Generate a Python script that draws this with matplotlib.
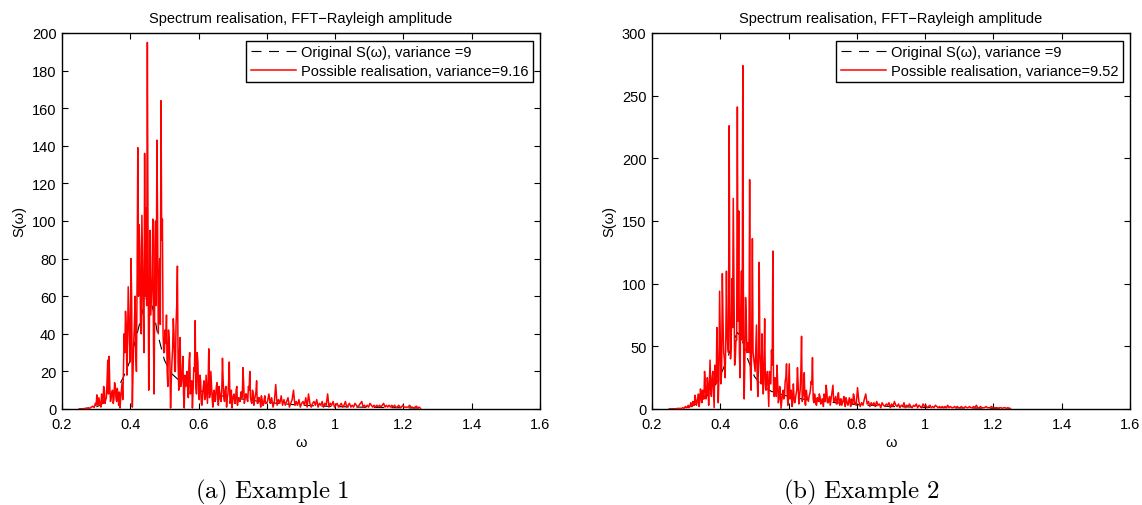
"""Spectrum realisation plots (two examples side by side)."""

import numpy as np
import matplotlib

matplotlib.use("Agg")
import matplotlib.pyplot as plt
from matplotlib.ticker import FormatStrFormatter, MultipleLocator

plt.rcParams["font.family"] = ["Liberation Sans", "DejaVu Sans"]
plt.rcParams["mathtext.fontset"] = "cm"

# frequency grid of the realisations (step 0.004) ...
omega = np.round(np.arange(0.25, 1.2501, 0.004), 3)
# ... plus the in-between bins of the busy part (0.300 - 0.796)
omega_mid = np.round(np.arange(0.300, 0.7961, 0.004), 3)

# realisation, example 1 (10 values per 0.04)
real_1 = [
    0, 0, 0, 0.1, 0.1, 0.2, 0.3, 0.5, 0.4, 1.0,
    1.5, 0.8, 3, 7.5, 2, 4, 1, 5, 12, 3,
    6, 26, 28, 4, 9, 3, 14, 6, 11, 2,
    0.5, 10, 5, 40, 52, 18, 65, 35, 80, 1,
    35, 60, 20, 139, 98, 45, 103, 50, 136, 107,
    195, 10, 95, 60, 101, 8, 100, 143, 40, 80,
    164, 101, 30, 42, 50, 12, 36, 0.5, 25, 48,
    20, 45, 76, 10, 38, 14, 28, 0.5, 12, 20,
    6, 30, 12, 0.5, 22, 47, 8, 25, 5, 15,
    2, 12, 5, 18, 3, 32, 8, 12, 1, 10,
    5, 14, 2, 9, 4, 27, 6, 10, 1, 8,
    25, 4, 0.5, 7, 3, 10, 2, 6, 4, 9,
    22, 3, 8, 5, 12, 20, 4, 10, 2, 7,
    15, 3, 6, 1, 5, 2, 7, 3, 4, 8,
    3, 6, 1, 4, 13, 2, 5, 3, 7, 2,
    5, 2, 4, 6, 1, 3, 5, 10, 2, 4,
    2, 5, 1, 3, 4, 2, 6, 1, 8, 3,
    1, 3, 4, 2, 5, 1, 3, 2, 4, 1,
    3, 2, 8, 1, 3, 2, 4, 1, 2, 3,
    1, 2, 3, 1, 2, 4, 1, 2, 3, 1,
    2, 1, 3, 2, 1, 2, 3, 4, 1, 2,
    1, 2, 1, 3, 2, 1, 2, 1, 2, 1,
    2, 1, 2, 3, 1, 2, 1, 2, 1, 2,
    1, 2, 1, 1, 2, 1, 1, 2, 1, 1,
    1, 1, 2, 1, 1, 0.5, 1, 1.5, 0.5, 1,
    0.3,
]
real_1_mid = [
    2, 4, 6, 2, 8, 3, 10, 5, 15, 8,
    12, 6, 10, 5, 12, 4, 8, 9, 6, 14,
    20, 30, 45, 35, 50, 25, 60, 20, 45, 30,
    70, 60, 85, 40, 75, 30, 60, 55, 90, 45,
    50, 70, 35, 85, 55, 100, 60, 45, 90, 40,
    30, 35, 20, 42, 25, 15, 32, 40, 20, 55,
    25, 30, 12, 20, 8, 18, 15, 10, 25, 8,
    15, 10, 20, 12, 30, 10, 18, 3, 8, 15,
    6, 10, 15, 6, 20, 5, 9, 4, 12, 7,
    12, 5, 10, 15, 4, 12, 6, 14, 3, 10,
    5, 8, 3, 12, 6, 4, 9, 6, 14, 5,
    8, 4, 10, 6, 3, 8, 5, 9, 3, 6,
    4, 7, 2, 5, 3,
]

# realisation, example 2
real_2 = [
    0, 0, 0, 0, 0.1, 0.2, 0.1, 0.3, 0.5, 0.4,
    1, 0.5, 2, 1, 3, 1.5, 5, 2, 4, 11,
    3, 8, 2, 16, 5, 12, 30, 8, 25, 3,
    39, 10, 30, 1, 25, 65, 5, 94, 20, 108,
    45, 25, 110, 50, 226, 40, 104, 168, 35, 55,
    241, 158, 25, 110, 274, 8, 89, 45, 53, 183,
    15, 136, 40, 30, 67, 10, 117, 30, 60, 12,
    72, 15, 30, 2, 25, 47, 126, 10, 20, 35,
    5, 18, 0.5, 12, 8, 22, 36, 3, 36, 10,
    2, 20, 5, 12, 33, 4, 15, 58, 10, 29,
    3, 10, 6, 12, 22, 41, 5, 9, 3, 7,
    12, 4, 8, 2, 10, 19, 5, 8, 3, 11,
    19, 6, 10, 4, 13, 3, 8, 5, 10, 2,
    7, 3, 9, 2, 5, 12, 4, 3, 17, 6,
    2, 5, 3, 8, 12, 4, 6, 2, 5, 3,
    5, 2, 6, 3, 4, 1, 5, 3, 2, 4,
    3, 5, 1, 4, 2, 6, 3, 2, 4, 1,
    3, 2, 5, 1, 3, 2, 4, 2, 1, 3,
    2, 4, 1, 3, 2, 1, 4, 2, 3, 1,
    2, 3, 1, 2, 1, 3, 2, 1, 2, 1,
    2, 1, 2, 1, 3, 1, 2, 1, 1, 2,
    1, 2, 1, 1, 2, 1, 1, 2, 1, 1,
    2, 1, 1, 2, 1, 3, 1, 1, 2, 1,
    1, 1, 2, 1, 1, 1, 2, 1, 1, 1,
    1, 0.5, 1, 1, 0.5, 1, 1, 0.5, 1, 0.5,
    0.3,
]
real_2_mid = [
    1, 2, 1, 3, 2, 6, 3, 8, 5, 12,
    6, 10, 15, 8, 20, 12, 18, 20, 14, 25,
    15, 35, 20, 40, 25, 55, 30, 70, 40, 50,
    60, 45, 80, 50, 65, 100, 40, 55, 70, 45,
    80, 55, 60, 40, 75, 50, 45, 30, 55, 45,
    35, 50, 25, 40, 45, 20, 30, 35, 20, 25,
    15, 30, 20, 35, 15, 25, 10, 22, 8, 12,
    6, 15, 10, 25, 12, 20, 8, 15, 5, 10,
    8, 15, 20, 10, 30, 6, 12, 4, 15, 8,
    10, 15, 20, 8, 12, 4, 9, 6, 10, 5,
    8, 12, 6, 14, 5, 10, 7, 15, 6, 8,
    4, 10, 6, 8, 3, 7, 5, 9, 4, 6,
    5, 8, 4, 10, 5,
]

# original target spectrum (mostly hidden behind the red realisation)
omega_orig = [0.25, 0.30, 0.33, 0.36, 0.38, 0.40, 0.42, 0.44, 0.45, 0.46, 0.47,
              0.48, 0.50, 0.52, 0.55, 0.60, 0.65, 0.70, 0.80, 0.90, 1.0, 1.1, 1.25]
s_orig = [0, 1, 4, 10, 17, 26, 40, 55, 61, 58, 50,
          40, 26, 19, 14, 10, 7.5, 6, 3.5, 2, 1.3, 0.9, 0.5]

variances = ["9.16", "9.52"]
y_tops = [200, 300]
y_steps = [20, 50]
captions = [r"$\mathrm{(a)\ Example\ 1}$", r"$\mathrm{(b)\ Example\ 2}$"]

FS = 10.5


def _merge(vals, vals_mid):
    om = np.concatenate([omega, omega_mid])
    ss = np.concatenate([np.asarray(vals, float), np.asarray(vals_mid, float)])
    order = np.argsort(om, kind="stable")
    return om[order], ss[order]


def _draw_panel(ax, s_real, s_mid, var_txt, ytop, ystep):
    xs, ys = _merge(s_real, s_mid)
    ax.plot(omega_orig, s_orig, color="k", lw=0.8, ls=(0, (9, 6.75)), zorder=2,
            label="Original S(ω), variance =9")
    ax.plot(xs, ys, color="#ff0000", lw=1.1, zorder=3,
            label="Possible realisation, variance=" + var_txt)
    ax.set_xlim(0.2, 1.6)
    ax.set_ylim(0, ytop)
    ax.xaxis.set_major_locator(MultipleLocator(0.2))
    ax.yaxis.set_major_locator(MultipleLocator(ystep))
    ax.xaxis.set_major_formatter(FormatStrFormatter("%g"))
    ax.tick_params(direction="in", top=True, right=True, length=4,
                   width=0.8, labelsize=FS)
    ax.tick_params(axis="x", pad=6)
    ax.tick_params(axis="y", pad=4)
    for sp in ax.spines.values():
        sp.set_linewidth(1.0)
    ax.set_title("Spectrum realisation, FFT−Rayleigh amplitude", fontsize=FS, pad=8)
    ax.set_xlabel("ω", fontsize=FS, labelpad=3)
    ax.set_ylabel("S(ω)", fontsize=FS, labelpad=4)
    leg = ax.legend(loc="upper right", bbox_to_anchor=(0.985, 0.98),
                    borderaxespad=0, fontsize=FS, fancybox=False,
                    edgecolor="k", framealpha=1, handlelength=3.1,
                    handletextpad=0.35, labelspacing=0.35, borderpad=0.3)
    leg.get_frame().set_linewidth(1.0)


fig = plt.figure(figsize=(11.42, 5.06), dpi=100)
W, H = 1142, 506
lefts = [62, 652]
reals = [(real_1, real_1_mid), (real_2, real_2_mid)]
for k in range(2):
    ax = fig.add_axes([lefts[k] / W, 1 - 410 / H, 478 / W, 376 / H])
    _draw_panel(ax, reals[k][0], reals[k][1], variances[k], y_tops[k], y_steps[k])

fig.text(272 / W, 1 - 492 / H, captions[0], ha="center", va="center", fontsize=18)
fig.text(861 / W, 1 - 492 / H, captions[1], ha="center", va="center", fontsize=18)

fig.savefig("out.png", dpi=100)
plt.close(fig)
